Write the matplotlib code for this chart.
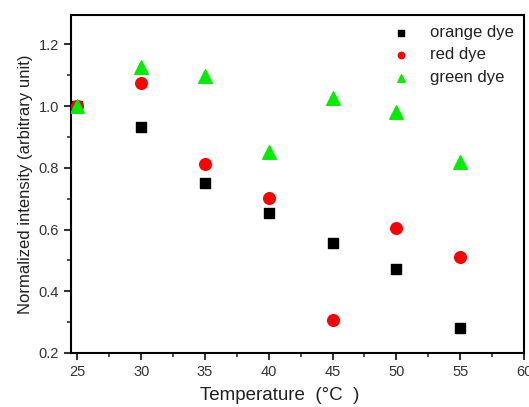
import matplotlib
matplotlib.use("Agg")
import matplotlib.pyplot as plt
from matplotlib.ticker import MultipleLocator

plt.rcParams['font.family'] = ['Liberation Sans', 'DejaVu Sans']

temps = [25, 30, 35, 40, 45, 50, 55]
orange = [1.0, 0.932, 0.752, 0.652, 0.556, 0.472, 0.281]
red = [1.0, 1.075, 0.812, 0.703, 0.308, 0.605, 0.511]
green = [1.0, 1.127, 1.096, 0.850, 1.027, 0.980, 0.818]

fig = plt.figure(figsize=(5.29, 4.07), dpi=100)
ax = fig.add_axes([71/529, 1-353/407, (524-71)/529, (353-15)/407])

ax.scatter(temps, orange, marker='s', s=60, color='black', label='orange dye', zorder=3)
ax.scatter(temps, red, marker='o', s=70, color='#ff0000', label='red dye', zorder=3)
ax.scatter(temps, green, marker='^', s=95, color='#00ee00', label='green dye', zorder=4)

ax.set_xlim(24.5, 60)
ax.set_ylim(0.2, 1.295)
ax.xaxis.set_major_locator(MultipleLocator(5))
ax.xaxis.set_minor_locator(MultipleLocator(2.5))
ax.yaxis.set_minor_locator(MultipleLocator(0.1))
ax.set_yticks([0.2, 0.4, 0.6, 0.8, 1.0, 1.2])
ax.set_yticklabels(['0.2', '0.4', '0.6', '0.8', '1.0', '1.2'])
ax.tick_params(which='both', direction='out', labelsize=10.5, colors='#333333', labelcolor='#333333')
ax.tick_params(which='major', length=5, width=1.5)
ax.tick_params(which='minor', length=3, width=1.2)
for s in ax.spines.values():
    s.set_linewidth(1.5)

ax.set_xlabel('Temperature  (\u00b0C  )', fontsize=13.5, color='#222222', labelpad=8)
ax.xaxis.set_label_coords(0.46, -0.1)
ax.xaxis.label.set_verticalalignment('top')
ax.set_ylabel('Normalized intensity (arbitrary unit)', fontsize=12, color='#222222')

leg = ax.legend(loc='upper right', frameon=False, fontsize=12, handletextpad=1.0, labelspacing=0.45,
          markerscale=0.55, borderaxespad=0.2, handlelength=1.5)
for t in leg.get_texts():
    t.set_color('#222222')

fig.savefig('out.png', dpi=100)
